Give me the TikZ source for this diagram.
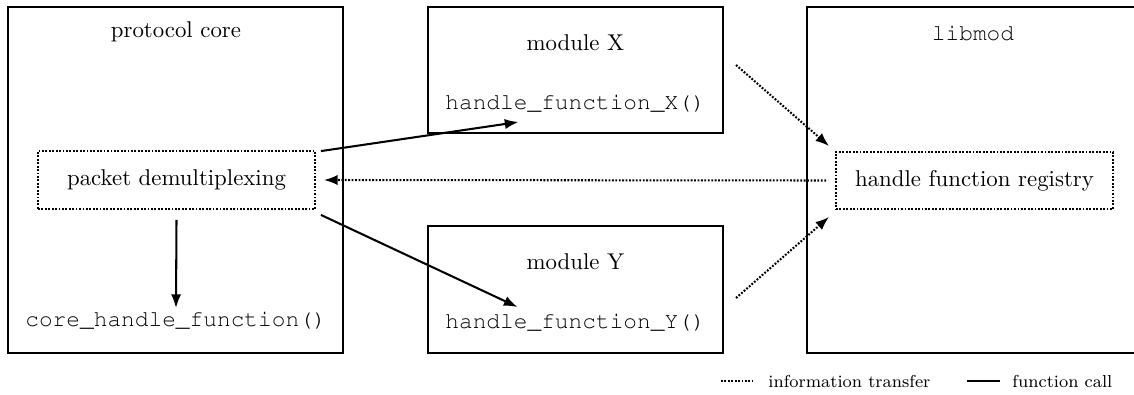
\documentclass[tikz,border=0pt]{standalone}
\usepackage[T1,TU]{fontenc}
\usetikzlibrary{arrows.meta,fit}
% Courier for code names
\newcommand{\codefont}{\fontencoding{T1}\fontfamily{pcr}\selectfont}
\begin{document}
\begin{tikzpicture}[x=0.438pt,y=-0.438pt,
  frame/.style={draw,line width=0.9pt,inner sep=0pt},
  subbox/.style={draw,line width=0.8pt,dash pattern=on 0.8pt off 0.7pt,inner sep=0pt},
  call/.style={line width=0.9pt,-{Latex[length=6pt,width=4.5pt]}},
  info/.style={line width=0.9pt,dash pattern=on 0.8pt off 0.7pt,-{Latex[length=6pt,width=4.5pt]}},
  code/.style={font=\codefont},
  legend/.style={font=\fontsize{7.6pt}{9pt}\selectfont,anchor=west,inner sep=0pt}]
\clip (0,0) rectangle (1134,394);
\useasboundingbox (0,0) rectangle (1134,394);

% corner points of the outer frames
\coordinate (pc1) at (8,7);    \coordinate (pc2) at (343,353);
\coordinate (mx1) at (428,7);  \coordinate (mx2) at (723,133);
\coordinate (my1) at (428,226);\coordinate (my2) at (723,353);
\coordinate (lm1) at (807,7);  \coordinate (lm2) at (1160,353);
\coordinate (dm1) at (38,151); \coordinate (dm2) at (315,209);
\coordinate (rg1) at (836,152);\coordinate (rg2) at (1113,209);

\node[frame,fit=(pc1)(pc2)] (core) {};
\node[frame,fit=(mx1)(mx2)] (modx) {};
\node[frame,fit=(my1)(my2)] (mody) {};
\node[frame,fit=(lm1)(lm2)] (libmod) {};
\node[subbox,fit=(dm1)(dm2)] (demux) {};
\node[subbox,fit=(rg1)(rg2)] (registry) {};

% labels
\node (coretitle) at (176,32) {protocol core};
\node (demuxtext) at (176.5,180) {packet demultiplexing};
\node[code] (corefn) at (176,321) {core\_handle\_function()};
\node (modxtitle) at (575.5,43) {module X};
\node[code] (hfx) at (575.5,104) {handle\_function\_X()};
\node (modytitle) at (575.5,262) {module Y};
\node[code] (hfy) at (575.5,323) {handle\_function\_Y()};
\node[code] (libtitle) at (973,33) {libmod};
\node (regtext) at (974.5,180.5) {handle function registry};

% function calls
\draw[call] ([shift={(5,1)}]demux.north east) -- ([shift={(-57,18)}]hfx.center);
\draw[call] ([shift={(5,5)}]demux.south east) -- ([shift={(-58,-16)}]hfy.center);
\draw[call] ([shift={(0,10)}]demux.south) -- ([shift={(0,-13)}]corefn.center);

% information transfer
\draw[info] ([shift={(-9,0)}]registry.west) -- ([shift={(8,0)}]demux.east);
\draw[info] ([shift={(12,-5)}]modx.east) -- ([shift={(-6,-5)}]registry.north west);
\draw[info] ([shift={(12,8.5)}]mody.east) -- ([shift={(-6,7)}]registry.south west);

% legend
\coordinate (li1) at (721,381); \coordinate (li2) at (752,381);
\coordinate (lc1) at (967,381); \coordinate (lc2) at (1000,381);
\draw[line width=0.9pt,dash pattern=on 0.8pt off 0.7pt] (li1) -- (li2);
\node[legend] (infolabel) at (768,381) {information transfer};
\draw[line width=0.9pt] (lc1) -- (lc2);
\node[legend] (calllabel) at (1012,381) {function call};
\end{tikzpicture}
\end{document}
